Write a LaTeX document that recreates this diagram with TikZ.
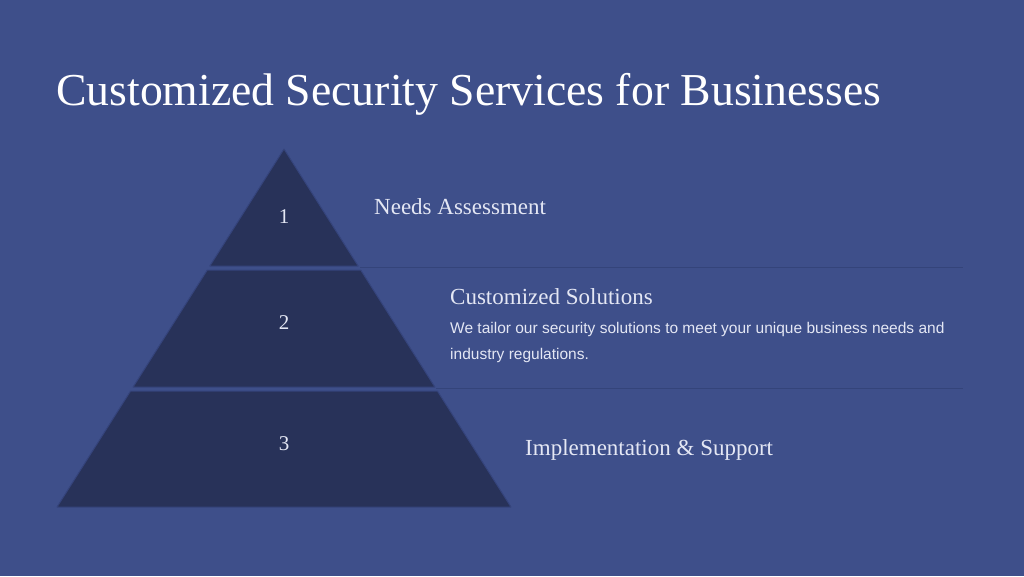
\documentclass[tikz,border=0pt]{standalone}
\usepackage{fontspec}
\setmainfont{Liberation Serif}
\setsansfont{Liberation Sans}
\usepackage{xcolor}
\usetikzlibrary{positioning}

\definecolor{bgblue}{HTML}{3E4F8A}
\definecolor{tierblue}{HTML}{283259}
\definecolor{edgeblue}{HTML}{35447C}
\definecolor{ruleblue}{HTML}{34447A}
\definecolor{softwhite}{HTML}{E4E7F4}

\begin{document}
\begin{tikzpicture}[x=1pt,y=-1pt,
  tier/.style={fill=tierblue,draw=edgeblue,line width=1pt,line join=round},
  rulel/.style={draw=ruleblue,line width=1pt},
  num/.style={text=softwhite,inner sep=0,font=\fontsize{21}{21}\selectfont},
  head/.style={text=softwhite,inner sep=0,anchor=base west,font=\fontsize{23}{23}\selectfont},
  body/.style={text=softwhite,inner sep=0,anchor=north west,align=left,font=\sffamily\fontsize{15.5}{26}\selectfont}]

\fill[bgblue] (0,0) rectangle (1024,576);
\useasboundingbox (0,0) rectangle (1024,576);

\node[text=white,inner sep=0,anchor=base west,font=\fontsize{45.7}{46}\selectfont] (title) at (56,105)
  {Customized Security Services for Businesses};

\def \apex {284}
\def \slope {0.634} % half width per pixel of height

% three tiers cut from one triangle
\foreach \ya/\yb [count=\s] in {149/266, 270/387, 391/507}
{
  \pgfmathsetmacro \wa {\slope*(\ya-149)}
  \pgfmathsetmacro \wb {\slope*(\yb-149)}
  \draw[tier] (\apex-\wa,\ya) -- (\apex+\wa,\ya) -- (\apex+\wb,\yb) -- (\apex-\wb,\yb) -- cycle;
}

\node[num] (n1) at (284,217) {1};
\node[num] (n2) at (284,323) {2};
\node[num] (n3) at (284,444) {3};

\coordinate (r1a) at (360,267);
\coordinate (r1b) at (963,267);
\coordinate (r2a) at (436,388);
\coordinate (r2b) at (963,388);
\draw[rulel] (r1a) -- (r1b);
\draw[rulel] (r2a) -- (r2b);

\node[head] (needs) at (374,214) {Needs Assessment};
\node[head] (solutions) at (450,304) {Customized Solutions};
\node[body] (tailor) at (450,322)
  {We tailor our security solutions to meet your unique business needs and\\industry regulations.};
\node[head] (support) at (525,455) {Implementation \& Support};

\end{tikzpicture}
\end{document}
